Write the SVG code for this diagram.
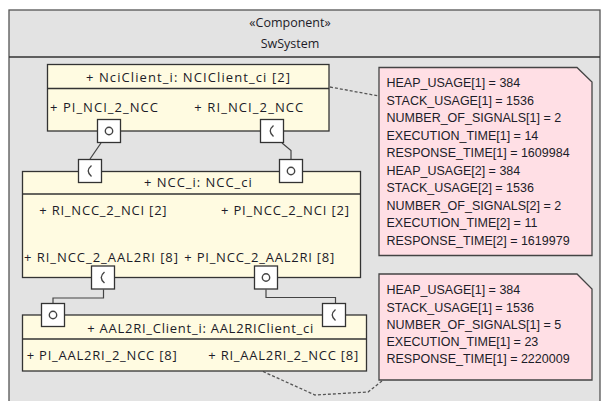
<svg xmlns="http://www.w3.org/2000/svg" width="603" height="401" viewBox="0 0 603 401">
<style>
.frame{fill:#e3e3e3;stroke:#555;stroke-width:1.3}
.box{fill:#fffbe1;stroke:#333;stroke-width:1.3}
.sep{stroke:#333;stroke-width:1.3}
.port{fill:#fff;stroke:#333;stroke-width:1.3}
.o{fill:none;stroke:#444;stroke-width:1.4}
.c{fill:none;stroke:#444;stroke-width:1.4}
.t{font-family:"Open Sans","Noto Sans",sans-serif;font-size:13px;fill:#1c1c28}
.h{font-family:"Open Sans","Noto Sans",sans-serif;font-size:12.5px;fill:#1c1c28}
.n{font-family:"Liberation Sans",Arial,sans-serif;font-size:12.5px;fill:#1c1c28}
.note{fill:#ffdfe5;stroke:#444;stroke-width:1.3}
.conn{fill:none;stroke:#444;stroke-width:1.2}
.dash{fill:none;stroke:#555;stroke-width:1.3;stroke-dasharray:3 2}
</style>
<g id="SwSystem">
<rect class="frame" x="9" y="10" width="591" height="400"/>
<line class="sep" x1="9" y1="57" x2="600" y2="57"/>
<text class="h" x="290" y="27" text-anchor="middle">«Component»</text>
<text class="h" x="290" y="48" text-anchor="middle">SwSystem</text>
</g>
<g id="connectors">
<path class="conn" d="M101,143 L90,159"/>
<path class="conn" d="M282,143 L291,150.5 L291,159"/>
<path class="conn" d="M103.5,289.5 V298 H53 V303.5"/>
<path class="conn" d="M266,289.5 V297.5 H335.5 V303.5"/>
<path class="dash" d="M330,87 L379,96"/>
<path class="dash" d="M263,371.5 L315,395 L368,392 L382,381"/>
</g>
<g id="NciClient_i">
<rect class="box" x="47.5" y="64.5" width="281.5" height="66.5"/>
<line class="sep" x1="47.5" y1="88.5" x2="329" y2="88.5"/>
<text class="t" x="86" y="81.5" textLength="204" lengthAdjust="spacing">+ NciClient_i: NCIClient_ci [2]</text>
<text class="t" x="50" y="111.5" textLength="108" lengthAdjust="spacing">+ PI_NCI_2_NCC</text>
<text class="t" x="194.3" y="111.5" textLength="109" lengthAdjust="spacing">+ RI_NCI_2_NCC</text>
<rect class="port" x="97.5" y="119.5" width="23" height="23"/>
<circle class="o" cx="109" cy="131" r="3.7"/>
<rect class="port" x="260.5" y="119.5" width="23" height="23"/>
<path class="c" d="M273.5,125.5 Q267,131 273.5,136.5"/>
</g>
<g id="NCC_i">
<rect class="box" x="22.5" y="171.5" width="338" height="106"/>
<line class="sep" x1="22.5" y1="194" x2="360.5" y2="194"/>
<text class="t" x="144" y="187.3" textLength="107.7" lengthAdjust="spacing">+ NCC_i: NCC_ci</text>
<text class="t" x="39.3" y="215" textLength="127.3" lengthAdjust="spacing">+ RI_NCC_2_NCI [2]</text>
<text class="t" x="221" y="215" textLength="128" lengthAdjust="spacing">+ PI_NCC_2_NCI [2]</text>
<text class="t" x="24" y="262.3" textLength="154" lengthAdjust="spacing">+ RI_NCC_2_AAL2RI [8]</text>
<text class="t" x="184.3" y="262.3" textLength="150" lengthAdjust="spacing">+ PI_NCC_2_AAL2RI [8]</text>
<rect class="port" x="78.5" y="159.5" width="23" height="23"/>
<path class="c" d="M91.5,165.5 Q85,171 91.5,176.5"/>
<rect class="port" x="279.5" y="159.5" width="23" height="23"/>
<circle class="o" cx="291" cy="171" r="3.7"/>
<rect class="port" x="91.5" y="266" width="23" height="23"/>
<path class="c" d="M104.5,272 Q98,277.5 104.5,283"/>
<rect class="port" x="254.5" y="266" width="23" height="23"/>
<circle class="o" cx="266" cy="277.5" r="3.7"/>
</g>
<g id="AAL2RI_Client_i">
<rect class="box" x="22.5" y="315" width="344" height="56"/>
<line class="sep" x1="22.5" y1="339" x2="366.5" y2="339"/>
<text class="t" x="87.3" y="332.7" textLength="226" lengthAdjust="spacing">+ AAL2RI_Client_i: AAL2RIClient_ci</text>
<text class="t" x="26.7" y="360" textLength="150" lengthAdjust="spacing">+ PI_AAL2RI_2_NCC [8]</text>
<text class="t" x="208.3" y="360" textLength="150" lengthAdjust="spacing">+ RI_AAL2RI_2_NCC [8]</text>
<rect class="port" x="41.5" y="303.5" width="23" height="23"/>
<circle class="o" cx="53" cy="315" r="3.7"/>
<rect class="port" x="322.5" y="303.5" width="23" height="23"/>
<path class="c" d="M335.5,309.5 Q329,315 335.5,320.5"/>
</g>
<g id="note1">
<path class="note" d="M379,67.5 H577 L592,82 V255.5 H379 Z"/>
<text class="n" x="386.5" y="87.3">HEAP_USAGE[1] = 384</text>
<text class="n" x="386.5" y="104.8">STACK_USAGE[1] = 1536</text>
<text class="n" x="386.5" y="122.3">NUMBER_OF_SIGNALS[1] = 2</text>
<text class="n" x="386.5" y="139.8">EXECUTION_TIME[1] = 14</text>
<text class="n" x="386.5" y="157.3">RESPONSE_TIME[1] = 1609984</text>
<text class="n" x="386.5" y="174.8">HEAP_USAGE[2] = 384</text>
<text class="n" x="386.5" y="192.3">STACK_USAGE[2] = 1536</text>
<text class="n" x="386.5" y="209.8">NUMBER_OF_SIGNALS[2] = 2</text>
<text class="n" x="386.5" y="227.3">EXECUTION_TIME[2] = 11</text>
<text class="n" x="386.5" y="244.8">RESPONSE_TIME[2] = 1619979</text>
</g>
<g id="note2">
<path class="note" d="M379,274 H577 L592,289 V380 H379 Z"/>
<text class="n" x="386.5" y="294.3">HEAP_USAGE[1] = 384</text>
<text class="n" x="386.5" y="311.6">STACK_USAGE[1] = 1536</text>
<text class="n" x="386.5" y="328.8">NUMBER_OF_SIGNALS[1] = 5</text>
<text class="n" x="386.5" y="346.1">EXECUTION_TIME[1] = 23</text>
<text class="n" x="386.5" y="363.3">RESPONSE_TIME[1] = 2220009</text>
</g>
</svg>
